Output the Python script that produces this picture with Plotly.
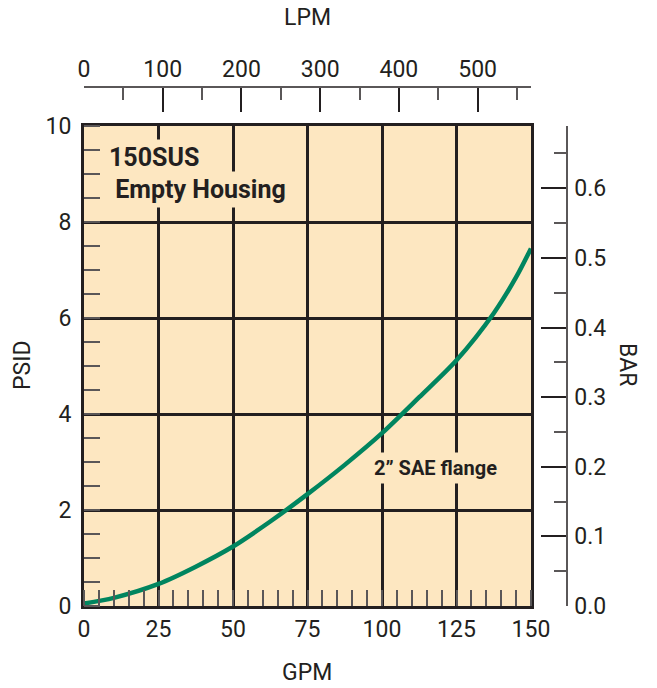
import plotly.graph_objects as go

# ---- data ----
gpm = [0, 10, 25, 37.5, 50, 62.5, 75, 87.5, 100, 112.5, 125, 137.5, 145, 150]
psid = [0.05, 0.17, 0.46, 0.82, 1.24, 1.76, 2.33, 2.94, 3.6, 4.35, 5.12, 6.1, 6.85, 7.45]

gpm_ticks = [0, 25, 50, 75, 100, 125, 150]
psid_ticks = [0, 2, 4, 6, 8, 10]
lpm_ticks = [0, 100, 200, 300, 400, 500]
bar_ticks = [0.0, 0.1, 0.2, 0.3, 0.4, 0.5, 0.6]

GPM_TO_LPM = 3.78541
PSI_PER_BAR = 14.5038

title_line1 = "150SUS"
title_line2 = "\u00a0Empty Housing"
curve_label = "2\u201d SAE flange"

# ---- styling ----
DARK = "#231f20"
GRAY = "#5a5758"
BG = "#fde7c1"
GREEN = "#00855f"
FONT = "Roboto"

W, H = 657, 688
ML, MR, MT, MB = 84, 90, 87, 82
PW = W - ML - MR
PH = H - MT - MB
plot_right = 531
plot_top = 126
xdom = [0, (plot_right - ML) / PW]
ydom = [0, (H - MB - plot_top) / PH]

fig = go.Figure()
fig.add_trace(go.Scatter(
    x=gpm, y=psid, mode="lines",
    line=dict(color=GREEN, width=4.5, shape="spline", smoothing=0.8),
    hoverinfo="skip", showlegend=False,
))
# invisible traces to activate secondary axes
fig.add_trace(go.Scatter(x=[0], y=[None], xaxis="x2", yaxis="y", showlegend=False, hoverinfo="skip"))
fig.add_trace(go.Scatter(x=[None], y=[0], xaxis="x", yaxis="y2", showlegend=False, hoverinfo="skip"))

tickfont = dict(family=FONT, size=23, color=DARK)

fig.update_layout(
    width=W, height=H,
    margin=dict(l=ML, r=MR, t=MT, b=MB),
    paper_bgcolor="white",
    plot_bgcolor=BG,
    showlegend=False,
    xaxis=dict(
        domain=xdom, range=[0, 150],
        tickvals=gpm_ticks, ticktext=[str(v) for v in gpm_ticks],
        ticks="", tickfont=tickfont, ticklabelstandoff=0,
        showgrid=True, gridcolor=DARK, gridwidth=2.5,
        showline=True, linecolor=DARK, linewidth=3, mirror=True,
        zeroline=False,
        minor=dict(dtick=5, tick0=0, ticks="inside", ticklen=16,
                   tickcolor=GRAY, tickwidth=1.5, showgrid=False),
    ),
    yaxis=dict(
        domain=ydom, range=[0, 10],
        tickvals=psid_ticks, ticktext=[str(v) for v in psid_ticks],
        ticks="", tickfont=tickfont, ticklabelstandoff=5,
        showgrid=True, gridcolor=DARK, gridwidth=2.5,
        showline=True, linecolor=DARK, linewidth=3, mirror=True,
        zeroline=False,
        minor=dict(dtick=0.5, tick0=0, ticks="inside", ticklen=16,
                   tickcolor=GRAY, tickwidth=1.5, showgrid=False),
    ),
    xaxis2=dict(
        overlaying="x", side="top", anchor="free", position=1,
        domain=xdom, range=[0, 150 * GPM_TO_LPM],
        tickvals=lpm_ticks, ticktext=[str(v) for v in lpm_ticks],
        ticks="inside", ticklen=24, tickwidth=1.5, tickcolor=DARK,
        tickfont=tickfont, ticklabelstandoff=0,
        showgrid=False, zeroline=False,
        showline=True, linecolor=GRAY, linewidth=1.5,
        minor=dict(dtick=50, tick0=0, ticks="inside", ticklen=12,
                   tickcolor=GRAY, tickwidth=1.5, showgrid=False),
    ),
    yaxis2=dict(
        overlaying="y", side="right", anchor="free", position=1,
        domain=ydom, range=[0, 10 / PSI_PER_BAR],
        tickvals=bar_ticks, ticktext=[f"{v:.1f}" for v in bar_ticks],
        ticks="inside", ticklen=25, tickwidth=1.5, tickcolor=DARK,
        tickfont=tickfont, ticklabelstandoff=2,
        showgrid=False, zeroline=False,
        showline=True, linecolor=GRAY, linewidth=1.5,
        minor=dict(dtick=0.05, tick0=0, ticks="inside", ticklen=12,
                   tickcolor=GRAY, tickwidth=1.5, showgrid=False),
    ),
)

def px_to_paper(px, py):
    return (px - ML) / PW, (H - MB - py) / PH

titlefont = dict(family=FONT, size=23, color=DARK)
for text, (px, py), ang in [
    ("LPM", (307, 18), 0),
    ("GPM", (307, 672), 0),
    ("PSID", (22, 365), -90),
    ("BAR", (628, 365), 90),
]:
    fx, fy = px_to_paper(px, py)
    fig.add_annotation(text=text, x=fx, y=fy, xref="paper", yref="paper",
                       showarrow=False, textangle=ang, font=titlefont,
                       xanchor="center", yanchor="middle")

boldfont = dict(family=FONT, size=25, color=DARK, weight="bold")
fig.add_annotation(text=title_line1, x=7.0, y=9.35, xref="x", yref="y",
                   showarrow=False, font=boldfont, xanchor="left", yanchor="middle",
                   bgcolor=BG, borderpad=3)
fig.add_annotation(text=title_line2, x=7.0, y=8.67, xref="x", yref="y",
                   showarrow=False, font=boldfont, xanchor="left", yanchor="middle",
                   bgcolor=BG, borderpad=3)
fig.add_annotation(text=curve_label, x=118, y=2.87, xref="x", yref="y",
                   showarrow=False, font=dict(family=FONT, size=20, color=DARK, weight="bold"),
                   xanchor="center", yanchor="middle", bgcolor=BG, borderpad=3)

fig.write_html(
    "out.html",
    config={"displayModeBar": False},
    post_script="document.body.style.margin='0';document.body.style.overflow='hidden';",
)
